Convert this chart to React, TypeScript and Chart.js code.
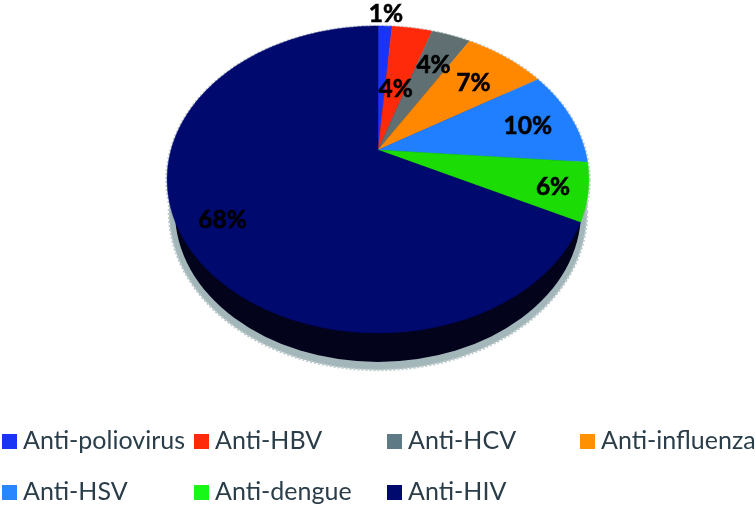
import React, { useEffect, useRef } from "react";
import { Chart, registerables } from "chart.js";

Chart.register(...registerables);

const categories = ["Anti-poliovirus", "Anti-HBV", "Anti-HCV", "Anti-influenza", "Anti-HSV", "Anti-dengue", "Anti-HIV"];
const shares = [1.3, 3.7, 3.6, 7.6, 10.1, 6.1, 67.6];
const shareLabels = ["1%", "4%", "4%", "7%", "10%", "6%", "68%"];
const sliceColors = ["#1a34f5", "#ff2a0a", "#5f6f72", "#ff8800", "#1f7fff", "#1cdc06", "#00096e"];
const legendColors = ["#1a34f5", "#ff2a0a", "#5d7a85", "#ff9000", "#2a86ff", "#18f818", "#00096e"];

// how far along each slice's middle its label sits (1 = the rim)
const labelRadii = [1.14, 0.47, 0.73, 0.72, 0.77, 0.84, 0.81];

const PERSPECTIVE = { a: 207, b: 147.8, k: -0.192 };
const LABEL_FONT = "bold 24.5px Lato, sans-serif";
const LABEL_NUDGE_Y = 2;
const LEGEND_FONT = "25px Lato, sans-serif";
const LEGEND_COLS = [2, 194, 387, 580];
const LEGEND_ROWS = [434, 485];

function project(cx: number, cy: number, angle: number, radial: number) {
  const u = Math.cos(angle) * radial;
  const v = Math.sin(angle) * radial;
  const w = 1 + PERSPECTIVE.k * v;
  return { x: cx + (PERSPECTIVE.a * u) / w, y: cy + (PERSPECTIVE.b * v) / w };
}

const perspectivePie = {
  id: "perspectivePie",
  beforeDatasetDraw(chart: any) {
    const ctx: CanvasRenderingContext2D = chart.ctx;
    const arcs = chart.getDatasetMeta(0).data;
    const cx = arcs[0].x;
    const cy = arcs[0].y;
    ctx.save();

    // thin halo round the top face
    ctx.beginPath();
    ctx.ellipse(cx, cy + 30, 212, 154.5, 0, 0, Math.PI * 2);
    ctx.setLineDash([2, 2]);
    ctx.lineWidth = 1.5;
    ctx.strokeStyle = "#c3d0d2";
    ctx.stroke();
    ctx.setLineDash([]);

    // soft grey halo under the disc
    ctx.beginPath();
    ctx.ellipse(cx, cy + 62, 209, 158, 0, 0, Math.PI * 2);
    ctx.fillStyle = "#a3b6b9";
    ctx.fill();
    ctx.setLineDash([2, 2]);
    ctx.lineWidth = 2.5;
    ctx.strokeStyle = "#bccacc";
    ctx.stroke();
    ctx.setLineDash([]);

    // disc side wall
    ctx.beginPath();
    ctx.ellipse(cx, cy + 62, 203, 150, 0, 0, Math.PI * 2);
    ctx.fillStyle = "#03031c";
    ctx.fill();

    // slices, taken from the library's arc elements
    for (const arc of arcs) {
      const steps = Math.max(4, Math.ceil((arc.endAngle - arc.startAngle) * 60));
      ctx.beginPath();
      ctx.moveTo(arc.x, arc.y);
      for (let i = 0; i <= steps; i++) {
        const t = arc.startAngle + ((arc.endAngle - arc.startAngle) * i) / steps;
        const p = project(arc.x, arc.y, t, 1);
        ctx.lineTo(p.x, p.y);
      }
      ctx.closePath();
      ctx.fillStyle = arc.options.backgroundColor;
      ctx.fill();
      ctx.lineWidth = 0.5;
      ctx.strokeStyle = arc.options.backgroundColor;
      ctx.stroke();
    }
    ctx.restore();
    return false;
  },
  afterDatasetsDraw(chart: any) {
    const ctx: CanvasRenderingContext2D = chart.ctx;
    const arcs = chart.getDatasetMeta(0).data;
    ctx.save();
    ctx.font = LABEL_FONT;
    ctx.fillStyle = "#000000";
    ctx.strokeStyle = "#000000";
    ctx.lineWidth = 0.6;
    ctx.textAlign = "center";
    ctx.textBaseline = "middle";
    arcs.forEach((arc: any, i: number) => {
      const p = project(arc.x, arc.y, (arc.startAngle + arc.endAngle) / 2, labelRadii[i]);
      ctx.fillText(shareLabels[i], p.x, p.y + LABEL_NUDGE_Y);
      ctx.strokeText(shareLabels[i], p.x, p.y + LABEL_NUDGE_Y);
    });

    ctx.font = LEGEND_FONT;
    ctx.textAlign = "left";
    ctx.textBaseline = "alphabetic";
    chart.data.labels.forEach((label: string, i: number) => {
      const col = i % 4;
      const row = Math.floor(i / 4);
      const x = LEGEND_COLS[col];
      const y = LEGEND_ROWS[row];
      ctx.fillStyle = legendColors[i];
      ctx.fillRect(x, y, 15, 15);
      ctx.fillStyle = "#2a3d48";
      ctx.fillText(label, x + 21, y + 15);
    });
    ctx.restore();
  },
};

export default function App() {
  const ref = useRef<HTMLCanvasElement>(null);
  useEffect(() => {
    const chart = new Chart(ref.current!, {
      type: "pie",
      data: {
        labels: categories,
        datasets: [{ data: shares, backgroundColor: sliceColors, borderWidth: 0 }],
      },
      options: {
        responsive: false,
        animation: false,
        layout: { padding: { top: 0, left: 0, right: 0, bottom: 207 } },
        plugins: { legend: { display: false }, tooltip: { enabled: false } },
      },
      plugins: [perspectivePie],
    });
    return () => chart.destroy();
  }, []);
  return (
    <div style={{ position: "absolute", left: 0, top: 0, width: 756, height: 507, background: "#fff" }}>
      <canvas ref={ref} width={756} height={507} style={{ display: "block" }} />
    </div>
  );
}
